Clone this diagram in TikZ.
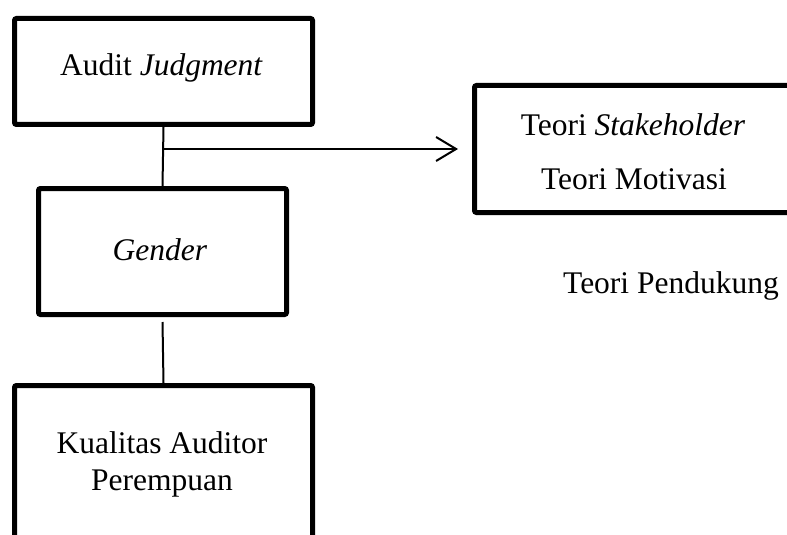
\documentclass[tikz,border=0pt]{standalone}
\usepackage{fontspec}
\setmainfont{Liberation Serif}
\usetikzlibrary{arrows.meta}
\begin{document}
\begin{tikzpicture}[x=0.5pt,y=-0.5pt,
  box/.style={draw, line width=2.5pt, rounded corners=1pt, inner sep=0pt},
  txt/.style={inner sep=0pt, anchor=base, font=\fontsize{15.75pt}{19pt}\selectfont},
  conn/.style={line width=1pt}]
\useasboundingbox (0,0) rectangle (787,535);
\clip (0,0) rectangle (787,535);
% boxes (line-centre coordinates)
\node[box, minimum width=149pt, minimum height=53pt] (aj) at (163.5,71.5) {};
\node[box, minimum width=124pt, minimum height=63pt] (gd) at (162.5,251.5) {};
\node[box, minimum width=149pt, minimum height=87.25pt] (kap) at (163.5,472.75) {};
\node[box, minimum width=162.75pt, minimum height=63.5pt] (teori) at (637.25,149) {};
% texts
\node[txt] (ajt) at (161.5,76) {Audit \textit{Judgment}};
\node[txt] (gdt) at (160,260) {\textit{Gender}};
\node[txt] (kat1) at (162,453) {Kualitas Auditor};
\node[txt] (kat2) at (162,490) {Perempuan};
\node[txt] (tt1) at (633,135) {Teori \textit{Stakeholder}};
\node[txt] (tt2) at (634,190) {Teori Motivasi};
\node[txt] (tp) at (671,293) {Teori Pendukung};
% connectors
\coordinate (j) at (163.5,149);
\coordinate (tip) at (458,149);
\draw[conn] (aj.south) -- (gd.north);
\draw[conn] (gd.south) ++(0,5) -- (kap.north);
\draw[conn, -{Straight Barb[length=10pt, width=12pt, line width=1pt]}] (j) -- (tip);
\end{tikzpicture}
\end{document}
